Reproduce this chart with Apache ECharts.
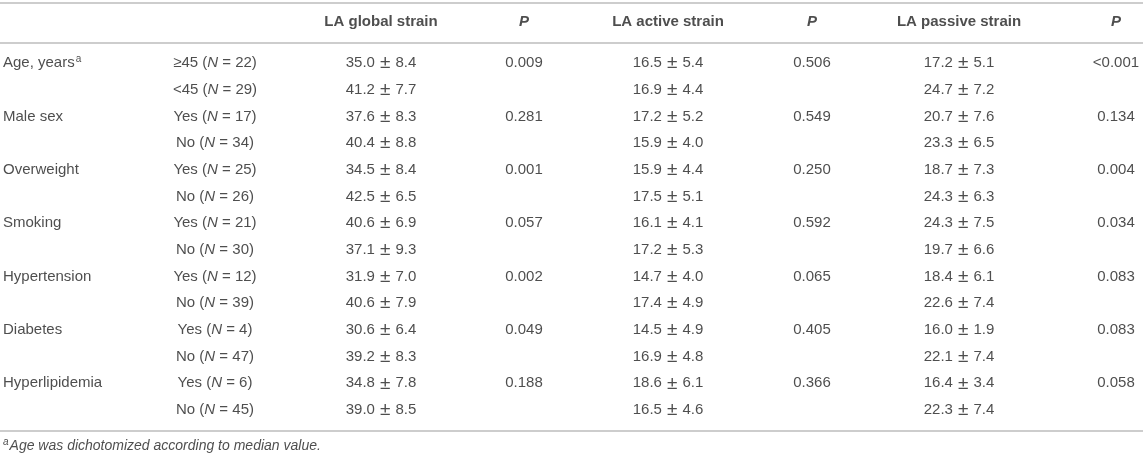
<!DOCTYPE html>
<html>
<head>
<meta charset="utf-8">
<script src="https://cdn.jsdelivr.net/npm/echarts@6/dist/echarts.min.js"></script>
<style>
  html, body { margin: 0; padding: 0; background: #fff; }
  #main { width: 1143px; height: 458px; }
</style>
</head>
<body>
<div id="main"></div>
<script>
// table content
const headers = ['', '', 'LA global strain', 'P', 'LA active strain', 'P', 'LA passive strain', 'P']
const variables = ['Age, years', 'Male sex', 'Overweight', 'Smoking', 'Hypertension', 'Diabetes', 'Hyperlipidemia']
const groupLabels = [['≥45', '<45'], ['Yes', 'No'], ['Yes', 'No'], ['Yes', 'No'], ['Yes', 'No'], ['Yes', 'No'], ['Yes', 'No']]
const groupN = [22, 29, 17, 34, 25, 26, 21, 30, 12, 39, 4, 47, 6, 45]
const globalMean = [35.0, 41.2, 37.6, 40.4, 34.5, 42.5, 40.6, 37.1, 31.9, 40.6, 30.6, 39.2, 34.8, 39.0]
const globalSd = [8.4, 7.7, 8.3, 8.8, 8.4, 6.5, 6.9, 9.3, 7.0, 7.9, 6.4, 8.3, 7.8, 8.5]
const globalP = ['0.009', '0.281', '0.001', '0.057', '0.002', '0.049', '0.188']
const activeMean = [16.5, 16.9, 17.2, 15.9, 15.9, 17.5, 16.1, 17.2, 14.7, 17.4, 14.5, 16.9, 18.6, 16.5]
const activeSd = [5.4, 4.4, 5.2, 4.0, 4.4, 5.1, 4.1, 5.3, 4.0, 4.9, 4.9, 4.8, 6.1, 4.6]
const activeP = ['0.506', '0.549', '0.250', '0.592', '0.065', '0.405', '0.366']
const passiveMean = [17.2, 24.7, 20.7, 23.3, 18.7, 24.3, 24.3, 19.7, 18.4, 22.6, 16.0, 22.1, 16.4, 22.3]
const passiveSd = [5.1, 7.2, 7.6, 6.5, 7.3, 6.3, 7.5, 6.6, 6.1, 7.4, 1.9, 7.4, 3.4, 7.4]
const passiveP = ['<0.001', '0.134', '0.004', '0.034', '0.083', '0.083', '0.058']
const footnote = 'Age was dichotomized according to median value.'

// layout: column anchors on the x scale, special rows on the y scale (row index units)
const colX = [3, 215, 381, 524, 668, 812, 959, 1116]
const headerRow = -1.54
const ruleRows = [-2.27, -0.75, 13.78]
const footRow = 14.35

const textColor = '#222'
const font = 'Liberation Sans, Arial, Helvetica, sans-serif'
const fs = 15

const nRows = groupN.length
const rowData = []   // [x, row, text]
const leftData = []
const headerData = []

const meanSd = (m, s) => m.toFixed(1) + '{pm|±}' + s.toFixed(1)

variables.forEach((v, i) => {
  leftData.push([colX[0], 2 * i, i === 0 ? v + '{sup|a}' : v])
})
for (let r = 0; r < nRows; r++) {
  const g = Math.floor(r / 2)
  const lab = groupLabels[g][r % 2]
  rowData.push([colX[1], r, lab + ' ({i|N} = ' + groupN[r] + ')'])
  rowData.push([colX[2], r, meanSd(globalMean[r], globalSd[r])])
  rowData.push([colX[4], r, meanSd(activeMean[r], activeSd[r])])
  rowData.push([colX[6], r, meanSd(passiveMean[r], passiveSd[r])])
  if (r % 2 === 0) {
    rowData.push([colX[3], r, globalP[g]])
    rowData.push([colX[5], r, activeP[g]])
    rowData.push([colX[7], r, passiveP[g]])
  }
}
headers.forEach((h, c) => {
  if (h) headerData.push([colX[c], headerRow, h === 'P' ? '{p|P}' : h])
})

const rich = {
  i: { fontStyle: 'italic', fontSize: fs, fontFamily: font, color: textColor },
  pm: { fontSize: 19, fontFamily: font, color: textColor, padding: [0, 5, 0, 5] },
  sup: { fontSize: 10, fontFamily: font, color: textColor, verticalAlign: 'top', padding: [0, 0, 7, 1] },
  p: { fontStyle: 'italic', fontWeight: 'bold', fontSize: fs, fontFamily: font, color: textColor }
}

const textSeries = (data, extra) => ({
  type: 'scatter',
  symbolSize: 0,
  silent: true,
  data: data,
  label: Object.assign({
    show: true,
    position: 'inside',
    formatter: p => p.value[2],
    color: textColor,
    fontSize: fs,
    fontFamily: font,
    rich: rich
  }, extra)
})

const option = {
  animation: false,
  backgroundColor: '#fff',
  grid: { left: 0, right: 0, top: 0, bottom: 0 },
  xAxis: { type: 'value', min: 0, max: 1143, show: false },
  yAxis: { type: 'value', min: -2.36, max: 14.8, inverse: true, show: false },
  series: [
    Object.assign(textSeries(rowData), {
      markLine: {
        silent: true,
        symbol: 'none',
        label: { show: false },
        lineStyle: { color: '#bcbcbc', width: 1.5, type: 'solid' },
        data: ruleRows.map(y => ({ yAxis: y }))
      }
    }),
    textSeries(leftData, { position: 'right', distance: 0 }),
    textSeries(headerData, { fontWeight: 'bold' }),
    textSeries([[colX[0], footRow, '{fs|a}' + footnote]], {
      position: 'right',
      distance: 0,
      fontStyle: 'italic',
      fontSize: 14,
      rich: {
        fs: { fontSize: 10, fontStyle: 'italic', fontFamily: font, color: textColor, verticalAlign: 'top', padding: [0, 1, 7, 0] }
      }
    })
  ]
}

const chart = echarts.init(document.getElementById('main'), null, { renderer: 'canvas' })
chart.setOption(option)
</script>
</body>
</html>
